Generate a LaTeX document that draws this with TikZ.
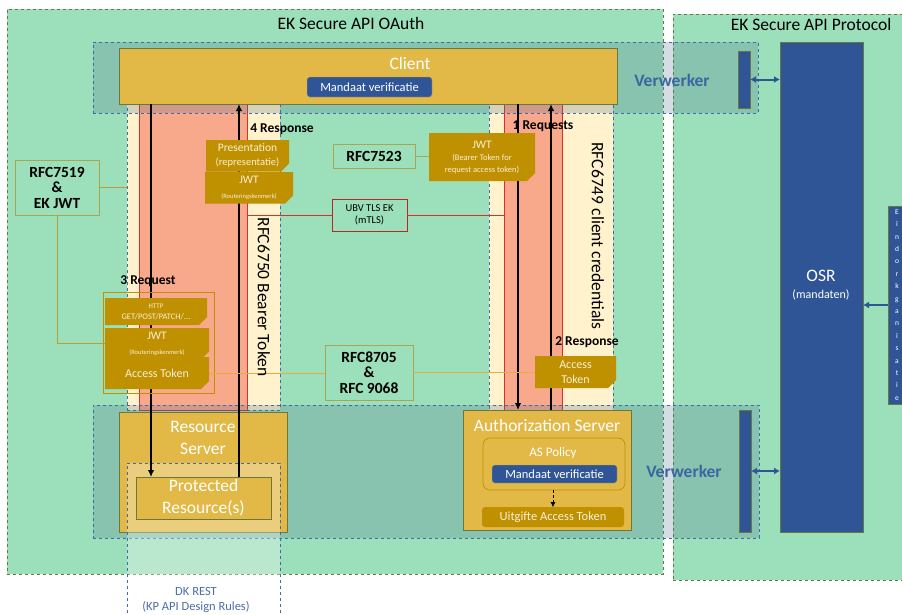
\documentclass[tikz,border=0pt]{standalone}
\usepackage{fontspec}
\setmainfont{Carlito}
\usetikzlibrary{arrows.meta, positioning, shapes.misc}

\definecolor{apigreen}{RGB}{155,223,187}
\definecolor{bandteal}{RGB}{74,104,139}
\definecolor{pillarcream}{RGB}{255,242,204}
\definecolor{salmon}{RGB}{248,169,139}
\definecolor{bandred}{RGB}{214,48,40}
\definecolor{servergold}{RGB}{226,185,71}
\definecolor{notegold}{RGB}{191,144,0}
\definecolor{osrblue}{RGB}{47,85,151}
\definecolor{edgeolive}{RGB}{105,120,60}
\definecolor{rfcolive}{RGB}{170,165,80}
\definecolor{linkolive}{RGB}{190,155,55}
\definecolor{linkyellow}{RGB}{225,175,60}
\definecolor{dashblue}{RGB}{68,105,170}
\definecolor{verwtext}{RGB}{60,102,160}
\definecolor{notetext}{RGB}{250,240,215}
\definecolor{resttext}{RGB}{75,110,170}

\begin{document}
\begin{tikzpicture}[
	x=1pt, y=-1pt,
	sized/.style 2 args={anchor=north west, minimum width=#1pt, minimum height=#2pt, inner sep=0pt, outer sep=0pt},
	container/.style={draw=edgeolive, dashed, fill=apigreen, line width=0.8pt},
	pillar/.style={draw=dashblue, dashed, fill=pillarcream, line width=0.7pt},
	redband/.style={draw=bandred, fill=salmon, line width=0.6pt},
	band/.style={draw=dashblue, dashed, fill=bandteal, fill opacity=0.23, line width=0.8pt},
	server/.style={draw=edgeolive, fill=servergold, line width=0.7pt},
	title/.style={text=white, font=\fontsize{17.5}{22}\selectfont, align=center},
	mandaat/.style={fill=osrblue, draw=notegold!70, rounded corners=2.5pt, text=white, font=\fontsize{12.5}{14}\selectfont},
	note/.style={chamfered rectangle, chamfered rectangle corners=south east, chamfered rectangle xsep=4pt, chamfered rectangle ysep=4pt, fill=notegold, text=notetext, align=center},
	rfcbox/.style={draw=rfcolive, fill=apigreen, line width=0.9pt, align=center, font=\bfseries\fontsize{15.5}{15.5}\selectfont},
	flowlabel/.style={font=\bfseries\fontsize{13.5}{15}\selectfont},
	rfcvert/.style={rotate=-90, font=\fontsize{17.5}{19}\selectfont},
	verwlabel/.style={text=verwtext, font=\bfseries\fontsize{17.5}{20}\selectfont},
	osrbox/.style={fill=osrblue, draw=edgeolive, line width=0.6pt},
	flow/.style={-{Latex[length=7pt,width=6.5pt]}, line width=2.4pt},
	sync/.style={{Latex[length=6pt,width=7pt]}-{Latex[length=6pt,width=7pt]}, line width=2pt, osrblue},
	link/.style={line width=0.8pt}
]
	\useasboundingbox (0,0) rectangle (902,614);

	% containers
	\node[container, sized={656}{565}] (oauth) at (7,9) {};
	\node[container, sized={240}{566}] (protocol) at (673,14) {};
	\node[font=\fontsize{17.5}{20}\selectfont] (oauthtitle) at (351,23) {EK Secure API OAuth};
	\node[font=\fontsize{17.5}{20}\selectfont] (prottitle) at (811,24) {EK Secure API Protocol};

	% pillars
	\node[pillar, sized={153}{307}] (pilL) at (127,103) {};
	\node[pillar, sized={124}{307}] (pilR) at (489,103) {};
	\node[redband, sized={108}{307}] (redL) at (139,103) {};
	\node[redband, sized={58}{307}] (redR) at (504,103) {};

	% verwerker bands
	\node[band, sized={665}{71}] (bandtop) at (93,42) {};
	\node[band, sized={666}{133}] (bandbot) at (93,405) {};
	\node[verwlabel] (verwtop) at (672,80) {Verwerker};
	\node[verwlabel] (verwbot) at (684,471) {Verwerker};

	% client
	\node[server, sized={498}{56}] (client) at (119,48) {};
	\node[title] (clienttitle) at (410,63) {Client};
	\node[mandaat, sized={125}{20}] (mvclient) at (307,77) {Mandaat verificatie};

	% resource server
	\node[server, sized={168}{120}] (ressrv) at (119,412) {};
	\node[title] (restitle) at (203,438) {Resource\\Server};
	\node[sized={153}{165}, draw=dashblue, dashed, fill=white, fill opacity=0.3, line width=0.7pt] (dkrest) at (127,463) {};
	\node[server, title, sized={135}{42}] (protres) at (136,477) {Protected\\Resource(s)};
	\node[text=resttext, align=center, font=\fontsize{12.5}{15}\selectfont] (resttitle) at (196,600) {DK REST\\(KP API Design Rules)};

	% authorization server
	\node[server, sized={168}{120}] (authsrv) at (463,410) {};
	\node[title] (authtitle) at (547,425) {Authorization Server};
	\node[server, draw=notegold, rounded corners=7pt, sized={142}{52}] (aspolicy) at (483,438) {};
	\node[text=white, font=\fontsize{13}{15}\selectfont] (astitle) at (553,453) {AS Policy};
	\node[mandaat, sized={125}{18}] (mvauth) at (492,465) {Mandaat verificatie};
	\node[fill=notegold, rounded corners=3pt, text=notetext, font=\fontsize{12.5}{14}\selectfont, sized={142}{20}] (uitgifte) at (482,507) {Uitgifte Access Token};
	\draw[densely dashed, -{Latex[length=5pt,width=5pt]}] (aspolicy.south -| uitgifte.north) -- (uitgifte.north);

	% protocol side
	\node[osrbox, sized={12}{57}] (vwtop) at (738,51) {};
	\node[osrbox, sized={12}{122}] (vwbot) at (739,410) {};
	\node[osrbox, sized={83}{490}] (osr) at (780,42) {};
	\node[text=white, align=center, font=\fontsize{17.5}{20}\selectfont] (osrtitle) at (821,285) {OSR\\[-3pt]{\fontsize{12}{14}\selectfont(mandaten)}};
	\node[osrbox, sized={18}{198}, text=white, align=center, font=\fontsize{7.5}{12.4}\selectfont] (eind) at (888,206) {E\\i\\n\\d\\o\\r\\k\\g\\a\\n\\i\\s\\a\\t\\i\\e};
	\draw[sync] (vwtop.east) -- (osr.west |- vwtop.east);
	\draw[sync] (vwbot.east) -- (osr.west |- vwbot.east);
	\draw[osrblue, line width=2pt, -{Latex[length=6pt,width=7pt]}] (eind.west) -- (osr.east |- eind.west);

	% flows
	\draw[flow] (client.south -| 151,0) -- (protres.north -| 151,0);
	\draw[flow] (protres.north -| 239,0) -- (client.south -| 239,0);
	\draw[flow] (client.south -| 518,0) -- (authsrv.north -| 518,0);
	\draw[flow] (authsrv.north -| 551,0) -- (client.south -| 551,0);

	% tokens
	\node[note, sized={106}{48}, font=\fontsize{8.5}{12}\selectfont] (jwtbear) at (429,133) {{\fontsize{11.5}{12}\selectfont JWT}\\(Bearer Token for\\request access token)};
	\node[note, sized={83}{31}, font=\fontsize{11.5}{14}\selectfont] (present) at (206,140) {Presentation\\\fontsize{10.5}{14}\selectfont(representatie)};
	\node[note, sized={88}{31}, font=\fontsize{11.5}{15}\selectfont] (jwtpres) at (205,172) {JWT\\\fontsize{6.5}{15}\selectfont(Routeringskenmerk)};
	\node[sized={111}{101}, draw=notegold, line width=0.8pt] (reqgroup) at (103,292) {};
	\node[note, sized={102}{27}, font=\fontsize{7}{11}\selectfont] (http) at (105,298) {HTTP\\\fontsize{8.5}{11}\selectfont GET/POST/PATCH/...};
	\node[note, sized={104}{25}, font=\fontsize{11.5}{15}\selectfont] (jwtreq) at (105,328) {JWT\\\fontsize{6.5}{15}\selectfont(Routeringskenmerk)};
	\node[note, sized={104}{32}, font=\fontsize{12}{14}\selectfont] (tokreq) at (105,357) {Access Token};
	\node[note, sized={81}{32}, font=\fontsize{12}{15}\selectfont] (tokas) at (535,356) {Access\\Token};

	% standards
	\node[rfcbox, sized={84}{55}] (rfcjwt) at (15,160) {RFC7519\\\&\\EK JWT};
	\node[rfcbox, sized={82}{24}] (rfc7523) at (333,144) {RFC7523};
	\node[rfcbox, sized={88}{55}] (rfc8705) at (325,345) {RFC8705\\\&\\RFC 9068};
	\node[sized={75}{32}, draw=bandred!85!black, fill=apigreen, line width=0.8pt, align=center, font=\fontsize{10.5}{12}\selectfont] (ubv) at (332,199) {UBV TLS EK\\(mTLS)};

	\draw[link, linkolive] (rfcjwt.east) -- (pilL.west |- rfcjwt.east);
	\draw[link, linkolive] (rfcjwt.south) |- (jwtreq.west);
	\draw[link, rfcolive] (rfc7523) -- (jwtbear);
	\draw[link, bandred] (redL.east |- ubv.west) -- (ubv.west);
	\draw[link, bandred] (ubv.east) -- (redR.west |- ubv.east);
	\draw[link, linkyellow] (tokreq.east) -- (rfc8705.west |- tokreq.east);
	\draw[link, linkyellow] (rfc8705.east |- tokas.west) -- (tokas.west);

	% labels
	\node[flowlabel] (lbl1) at (543,126) {1 Requests};
	\node[flowlabel] (lbl2) at (587,342) {2 Response};
	\node[flowlabel] (lbl3) at (148,281) {3 Request};
	\node[flowlabel] (lbl4) at (282,129) {4 Response};
	\node[rfcvert] (rfc6750) at (264,297) {RFC6750 Bearer Token};
	\node[rfcvert] (rfc6749) at (598,236) {RFC6749 client credentials};

\end{tikzpicture}
\end{document}
